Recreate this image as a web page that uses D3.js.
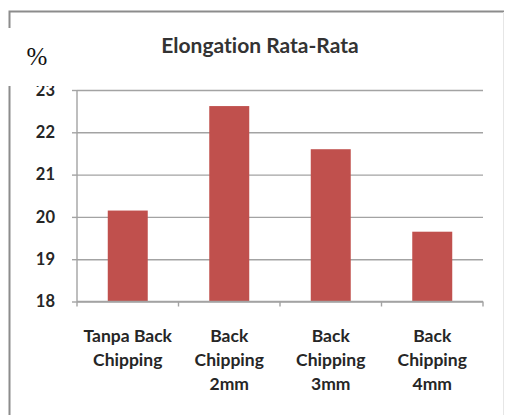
<!DOCTYPE html>
<html><head><meta charset="utf-8">
<script src="https://cdn.jsdelivr.net/npm/d3@7"></script>
<style>
html,body{margin:0;padding:0;background:#fff;}
svg{display:block;}
text{font-variant-ligatures:none;font-feature-settings:"liga" 0;}
</style>
</head><body>
<svg id="chart" width="506" height="415"></svg>
<script>
const categories = ["Tanpa Back Chipping", "Back Chipping 2mm", "Back Chipping 3mm", "Back Chipping 4mm"];
const categoryLines = [["Tanpa Back", "Chipping"], ["Back", "Chipping", "2mm"], ["Back", "Chipping", "3mm"], ["Back", "Chipping", "4mm"]];
const values = [20.15, 22.62, 21.6, 19.65];
const yTicks = [18, 19, 20, 21, 22, 23];
const titleText = "Elongation Rata-Rata";
const unitText = "%";

(function () {
const svg = d3.select("#chart");
const pLeft = 77, pRight = 483, pTop = 90, pBottom = 301.5;

// frame
svg.append("rect").attr("x", 0).attr("y", 0).attr("width", 506).attr("height", 415).attr("fill", "#fff");
svg.append("path").attr("d", "M9.5,415 V11.5 H504")
  .attr("fill", "none").attr("stroke", "#8c8c8c").attr("stroke-width", 2);
svg.append("path").attr("d", "M503.5,12 V415").attr("stroke", "#e6e6e6").attr("stroke-width", 1);

const y = d3.scaleLinear().domain([18, 23]).range([pBottom, pTop]);
const slot = d3.scaleBand().domain(categories).range([pLeft, pRight]).padding(0);
const x = d3.scaleBand().domain(categories).range([pLeft, pRight]).paddingInner(0.606).paddingOuter(0.303);

// gridlines
svg.append("g").attr("transform", `translate(${pLeft},0)`)
  .call(d3.axisLeft(y).tickValues(yTicks).tickSize(-(pRight - pLeft)).tickFormat(""))
  .call(g => g.select(".domain").remove())
  .call(g => g.selectAll("line").attr("stroke", "#a3a3a3").attr("stroke-width", 1.4));

// bars
svg.append("g").selectAll("rect").data(values).join("rect")
  .attr("x", (d, i) => x(categories[i]))
  .attr("width", x.bandwidth())
  .attr("y", d => y(d))
  .attr("height", d => y(18) - y(d))
  .attr("fill", "#c0504d");

// y axis
const ya = svg.append("g").attr("transform", `translate(${pLeft},0)`)
  .call(d3.axisLeft(y).tickValues(yTicks).tickSize(5).tickPadding(17).tickFormat(d3.format("d")));
ya.select(".domain").attr("stroke", "#a3a3a3").attr("stroke-width", 1.4).attr("d", `M0,${pTop}V${pBottom}`);
ya.selectAll(".tick line").attr("stroke", "#a3a3a3").attr("stroke-width", 1.4);
ya.selectAll(".tick text").attr("font-family", "Lato, sans-serif").attr("font-weight", "bold")
  .attr("font-size", 16.5).attr("fill", "#262626");

// x axis line and boundary ticks
svg.append("line").attr("x1", pLeft).attr("x2", pRight).attr("y1", pBottom).attr("y2", pBottom)
  .attr("stroke", "#a3a3a3").attr("stroke-width", 1.4);
const bounds = categories.map(c => slot(c)).concat([slot(categories[categories.length - 1]) + slot.bandwidth()]);
svg.append("g").selectAll("line").data(bounds).join("line")
  .attr("x1", d => d).attr("x2", d => d).attr("y1", pBottom).attr("y2", pBottom + 5)
  .attr("stroke", "#a3a3a3").attr("stroke-width", 1.4);

// category labels
const lab = svg.append("g").selectAll("text").data(categoryLines).join("text")
  .attr("x", (d, i) => slot(categories[i]) + slot.bandwidth() / 2)
  .attr("y", 341.5)
  .attr("text-anchor", "middle")
  .attr("font-family", "Lato, sans-serif").attr("font-weight", "bold").attr("font-size", 17.5)
  .attr("fill", "#262626");
lab.selectAll("tspan").data(d => d).join("tspan")
  .attr("x", function () { return d3.select(this.parentNode).attr("x"); })
  .attr("dy", (d, i) => i === 0 ? 0 : 24)
  .text(d => d);

// white box over unit label
svg.append("rect").attr("x", 0).attr("y", 28).attr("width", 70).attr("height", 58).attr("fill", "#fff");
svg.append("text").attr("x", 37).attr("y", 65).attr("text-anchor", "middle")
  .attr("font-family", "Liberation Serif, Times New Roman, serif").attr("font-size", 25)
  .attr("fill", "#111").text(unitText);

// title
svg.append("text").attr("x", 260).attr("y", 52.5).attr("text-anchor", "middle")
  .attr("font-family", "Lato, sans-serif").attr("font-weight", "bold").attr("font-size", 21)
  .attr("fill", "#333").text(titleText);
})();
</script>
</body></html>
